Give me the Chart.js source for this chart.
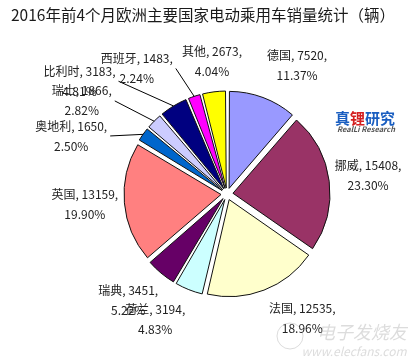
<!DOCTYPE html>
<html>
<head>
<meta charset="utf-8">
<script src="https://cdn.jsdelivr.net/npm/chart.js@4/dist/chart.umd.min.js"></script>
<style>
  html, body { margin: 0; padding: 0; background: #fff; }
</style>
</head>
<body>
<canvas id="myChart" width="408" height="360"></canvas>
<script>
const titleText = '2016年前4个月欧洲主要国家电动乘用车销量统计（辆）';
const countries = ['德国', '挪威', '法国', '荷兰', '瑞典', '英国', '奥地利', '瑞士', '比利时', '西班牙', '其他'];
const sales = [7520, 15408, 12535, 3194, 3451, 13159, 1650, 1866, 3183, 1483, 2673];
const colors = ['#9999FF', '#993366', '#FFFFCC', '#CCFFFF', '#660066', '#FF8080',
                '#0066CC', '#CCCCFF', '#000080', '#FF00FF', '#FFFF00'];

const total = sales.reduce((a, b) => a + b, 0);
const pct = (v) => (v / total * 100).toFixed(2) + '%';

// chart.js moves an exploded arc by offset / 4
const OFFSET = 24;
const FONT = '"Noto Sans CJK SC", "Noto Sans", sans-serif';

// label nudges from a point at 1.3 * radius on each slice's middle
const labelNudge = [[26, -10], [16, -3], [30, 7], [-25, 8], [-18, 10], [-16.5, 0],
                    [-53, 15], [-56, -4], [-82, -5], [-50, -6], [1, -7]];

const pieLabels = {
    id: 'pieLabels',
    afterDatasetUpdate(chart, args) {
        // keep small exploded slices on the same radius as the big ones
        const R = args.meta.controller.outerRadius;
        args.meta.data.forEach(arc => {
            const fix = 1 - Math.sin(Math.min(Math.PI, arc.circumference));
            arc.outerRadius = R - OFFSET / 4 * fix;
        });
    },
    afterDraw(chart) {
        const ctx = chart.ctx;
        const meta = chart.getDatasetMeta(0);
        const R = meta.controller.outerRadius;
        const d = OFFSET / 4;

        ctx.save();
        // title
        ctx.fillStyle = '#1a1a1a';
        ctx.font = '15.5px ' + FONT;
        ctx.textAlign = 'center';
        ctx.textBaseline = 'middle';
        ctx.fillText(titleText, 203, 15);

        // data labels
        ctx.font = '12px ' + FONT;
        meta.data.forEach((arc, i) => {
            const mid = (arc.startAngle + arc.endAngle) / 2;
            const ax = arc.x + Math.cos(mid) * R * 1.3 + labelNudge[i][0];
            const ay = arc.y + Math.sin(mid) * R * 1.3 + labelNudge[i][1];
            const line1 = countries[i] + ', ' + sales[i] + ',';
            const line2 = pct(sales[i]);
            const w = Math.max(ctx.measureText(line1).width, ctx.measureText(line2).width);
            const ex = arc.x + Math.cos(mid) * (R + d);
            const ey = arc.y + Math.sin(mid) * (R + d);
            const sx = ax + w / 2 + 3;
            if (sx < ex - 10) {
                ctx.strokeStyle = '#000';
                ctx.lineWidth = 1;
                ctx.beginPath();
                ctx.moveTo(sx, ay);
                ctx.lineTo(ex, ey);
                ctx.stroke();
            }
            ctx.fillStyle = '#222';
            ctx.fillText(line1, ax, ay - 10);
            ctx.fillText(line2, ax, ay + 10);
        });

        // 真锂研究 logo
        ctx.textAlign = 'left';
        ctx.font = 'bold 15px ' + FONT;
        const parts = [['真', '#1a5ec0'], ['锂', '#d42020'], ['研究', '#1a5ec0']];
        let x = 335;
        parts.forEach(([t, c]) => {
            ctx.fillStyle = c;
            ctx.fillText(t, x, 118);
            x += ctx.measureText(t).width;
        });
        ctx.fillStyle = '#555';
        ctx.font = 'italic bold 7.5px ' + FONT;
        ctx.textAlign = 'center';
        ctx.fillText('RealLi Research', 366, 129);

        // faint site watermark
        ctx.globalAlpha = 0.35;
        ctx.fillStyle = '#9a9a9a';
        ctx.font = 'italic 18px ' + FONT;
        ctx.fillText('电子发烧友', 362, 332);
        ctx.font = 'italic 12px ' + FONT;
        ctx.fillText('www.elecfans.com', 354, 351);
        ctx.strokeStyle = '#9a9a9a';
        ctx.beginPath();
        ctx.arc(290, 336, 13, 0, Math.PI * 2);
        ctx.stroke();
        ctx.restore();
    }
};

const dataChart = {
    labels: countries,
    datasets: [{
        data: sales,
        backgroundColor: colors,
        borderColor: '#111',
        borderWidth: 1,
        offset: OFFSET,
        radius: 97
    }]
};

const config = {
    type: 'pie',
    data: dataChart,
    options: {
        responsive: false,
        animation: false,
        layout: { padding: { left: 46, right: 0, top: 28, bottom: 0 } },
        plugins: {
            legend: { display: false },
            tooltip: { enabled: false },
            title: { display: false }
        }
    },
    plugins: [pieLabels]
};

const myChart = new Chart(document.getElementById('myChart'), config);
</script>
</body>
</html>
